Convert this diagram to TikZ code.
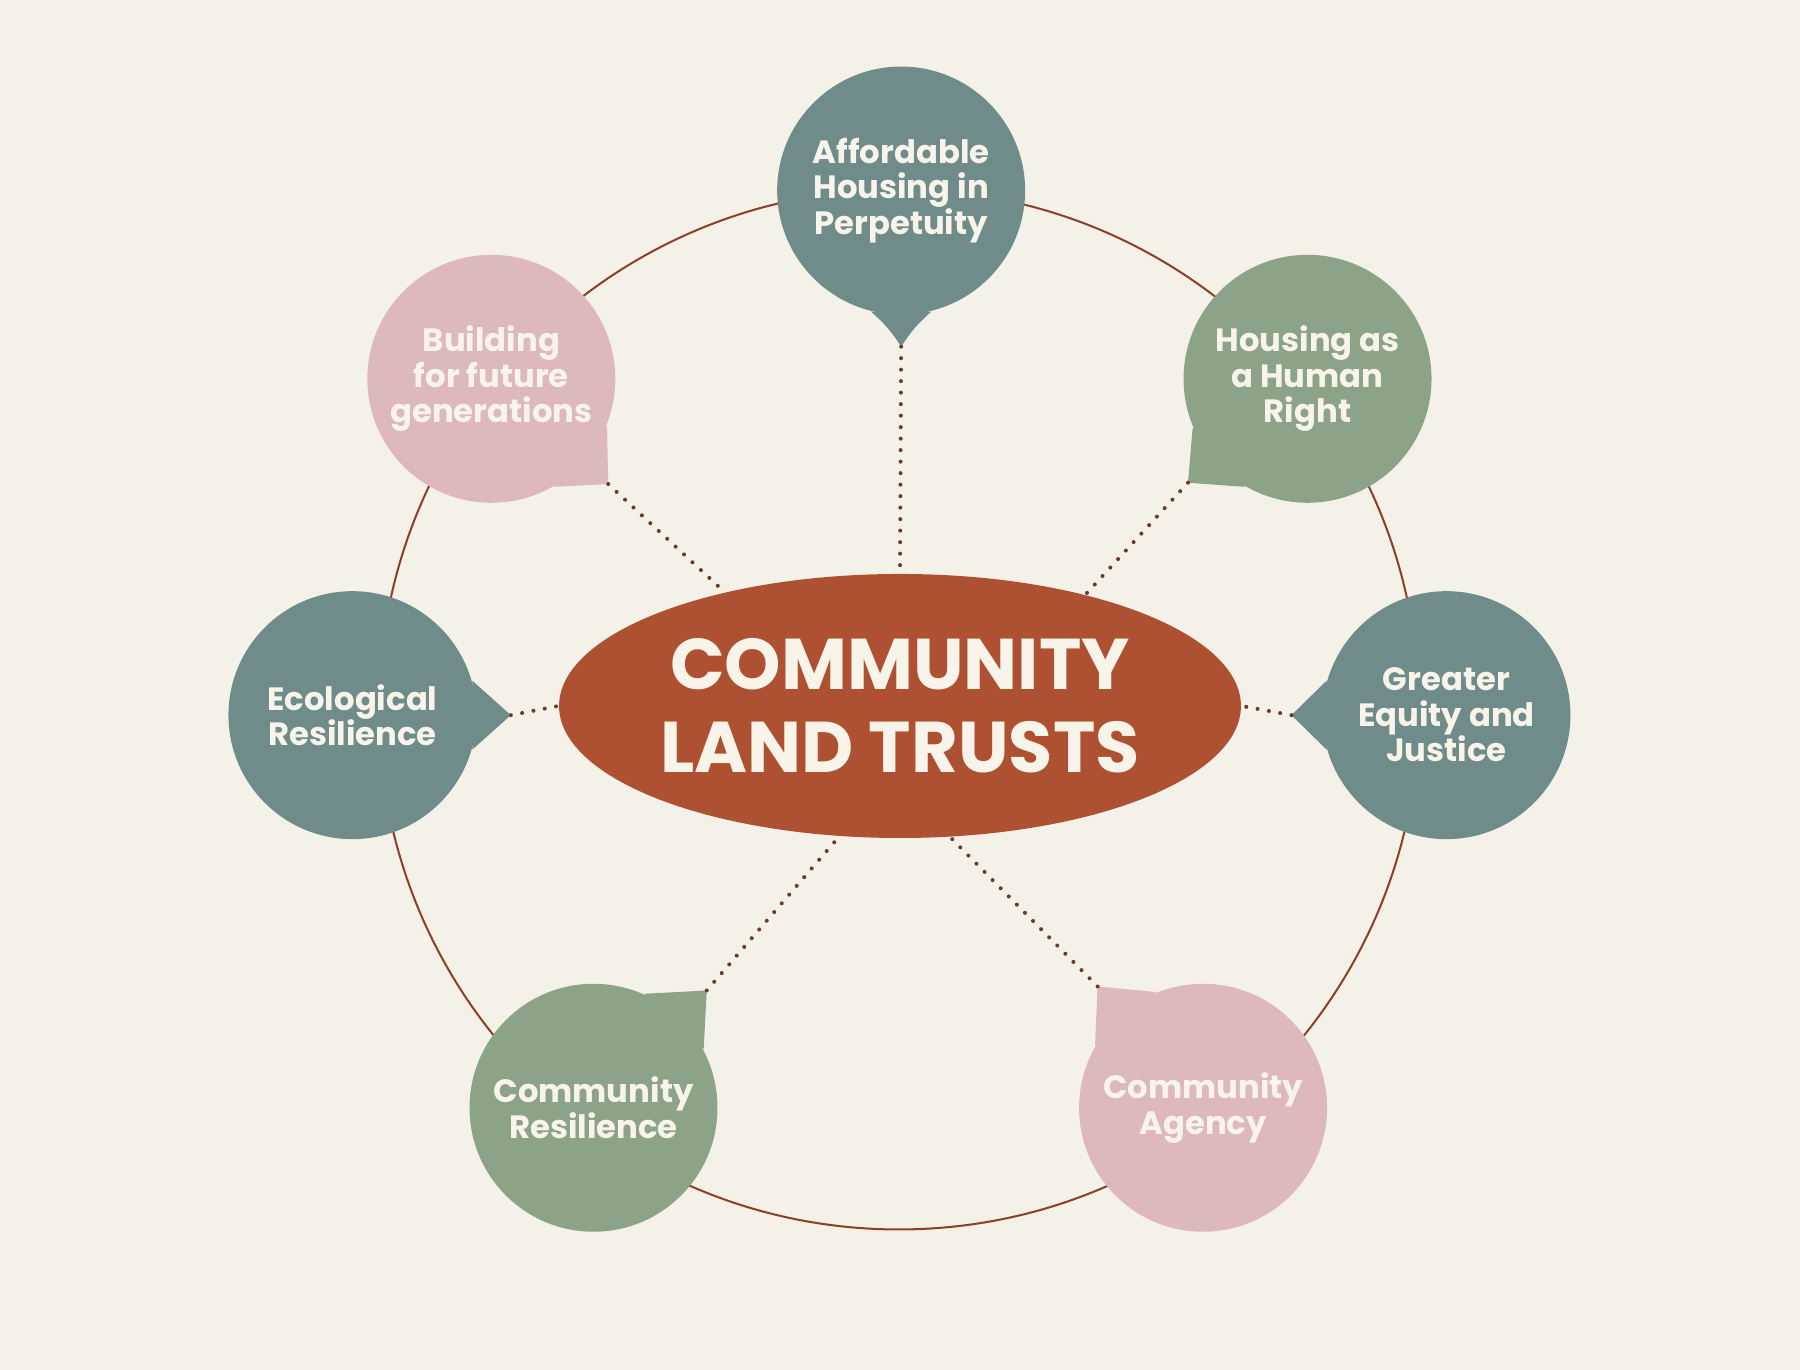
\documentclass[tikz,border=0pt]{standalone}
\usepackage{fontspec}
\setmainfont{Poppins}
\usetikzlibrary{shapes.geometric}
\definecolor{bgc}{HTML}{F4F2E8}
\definecolor{tealc}{HTML}{6F8C8A}
\definecolor{greenc}{HTML}{8DA387}
\definecolor{pinkc}{HTML}{DDB8BC}
\definecolor{rustc}{HTML}{AE5132}
\definecolor{ringc}{HTML}{8E3F27}
\definecolor{dotc}{HTML}{6E3A28}
\definecolor{creamc}{HTML}{F8F4EA}
\begin{document}
\begin{tikzpicture}[font=\bfseries,
	bub/.style={circle,minimum size=2.16cm,inner sep=0pt,align=center,text=creamc,font=\fontsize{8}{8.8}\selectfont\bfseries},
	dots/.style={draw=dotc,line width=1pt,line cap=round,dash pattern=on 0pt off 2.85pt},
	]
	% background and ring
	\fill[bgc] (0,0) rectangle (15.68,11.93);
	\useasboundingbox (0,0) rectangle (15.68,11.93);
	\draw[ringc,line width=0.5pt] (7.83,5.75) circle (4.53);
	% bubbles
	\node[bub,fill=tealc] (aff) at (7.85,10.27) {Affordable\\Housing in\\Perpetuity};
	\node[bub,fill=greenc] (right) at (11.39,8.63) {Housing as\\a Human\\Right};
	\node[bub,fill=tealc] (equity) at (12.60,5.70) {Greater\\Equity and\\Justice};
	\node[bub,fill=pinkc] (agency) at (10.48,2.28) {Community\\Agency};
	\node[bub,fill=greenc] (cres) at (5.17,2.28) {Community\\Resilience};
	\node[bub,fill=tealc] (eco) at (3.07,5.70) {Ecological\\Resilience};
	\node[bub,fill=pinkc] (future) at (4.28,8.63) {Building\\for future\\generations};
	% tails
	\path (aff) ++(270:1.36) coordinate (affTip);
	\path (right) ++(221:1.38) coordinate (rightTip);
	\path (equity) ++(180:1.35) coordinate (equityTip);
	\path (agency) ++(131:1.40) coordinate (agencyTip);
	\path (cres) ++(46:1.42) coordinate (cresTip);
	\path (eco) ++(0:1.38) coordinate (ecoTip);
	\path (future) ++(-42:1.37) coordinate (futureTip);
	\fill[tealc] (aff.256) to[bend left=8] (affTip) to[bend left=8] (aff.284) -- cycle;
	\fill[greenc] (right.203) -- (rightTip) -- (right.240) -- cycle;
	\fill[tealc] (equity.164) -- (equityTip) -- (equity.196) -- cycle;
	\fill[pinkc] (agency.150) -- (agencyTip) -- (agency.112) -- cycle;
	\fill[greenc] (cres.66) -- (cresTip) -- (cres.28) -- cycle;
	\fill[tealc] (eco.16) -- (ecoTip) -- (eco.-16) -- cycle;
	\fill[pinkc] (future.-22) -- (futureTip) -- (future.-60) -- cycle;
	% centre
	\node[ellipse,fill=rustc,minimum width=5.94cm,minimum height=2.30cm,inner sep=0pt,align=center,text=creamc,
		font=\fontsize{17.8}{20.5}\selectfont\bfseries] (clt) at (7.84,5.78) {COMMUNITY\\LAND TRUSTS};
	% dotted links
	\draw[dots] (affTip) -- (clt.90);
	\draw[dots] (rightTip) -- (clt.31);
	\draw[dots] (equityTip) -- (clt.0);
	\draw[dots] (agencyTip) -- (clt.-69);
	\draw[dots] (cresTip) -- (clt.-115);
	\draw[dots] (ecoTip) -- (clt.180);
	\draw[dots] (futureTip) -- (clt.147);
\end{tikzpicture}
\end{document}
